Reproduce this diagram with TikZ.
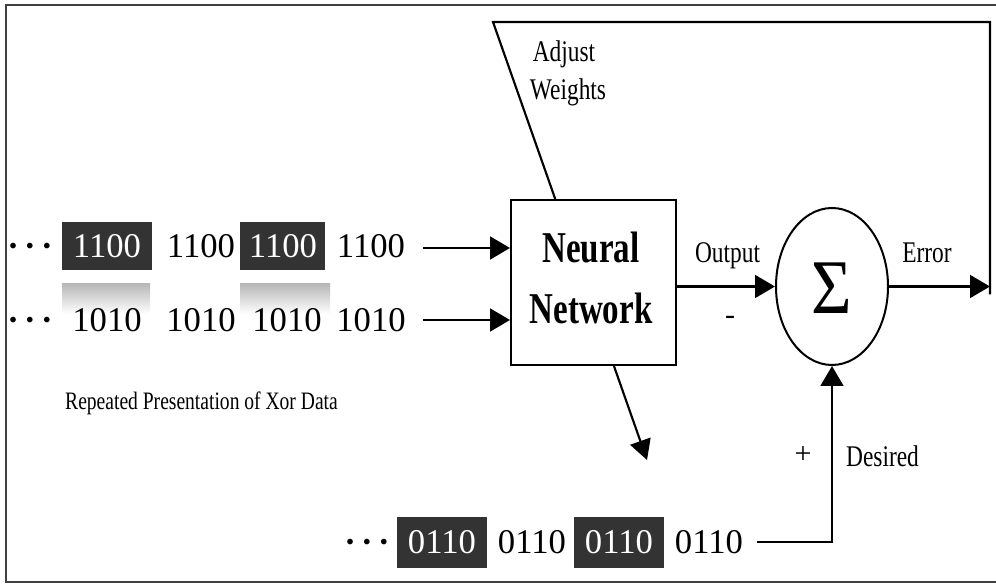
\documentclass[tikz,border=0pt]{standalone}
\usepackage{fontspec}
\setmainfont{Liberation Serif}
\usetikzlibrary{arrows.meta,shapes.geometric}

% horizontally condensed text
\newcommand\narrow[2][0.78]{\scalebox{#1}[1]{#2}}

\begin{document}
\begin{tikzpicture}[x=0.75pt,y=-0.75pt,
  lbl/.style={inner sep=0pt, font=\fontsize{22.5}{27}\selectfont},
  bits/.style={inner sep=0pt, anchor=base, font=\fontsize{26}{30}\selectfont},
  darkbits/.style={bits, text=white},
  dots/.style={bits, font=\bfseries\fontsize{26}{30}\selectfont},
  darkbg/.style={fill=black!80, draw=none},
  lightbg/.style={top color=black!28, bottom color=white, draw=none},
  flow/.style={line width=2.2pt, -{Triangle[length=15pt,width=17pt]}},
  wire/.style={line width=1.6pt},
  frame/.style={line width=1.4pt, black!75},
]
\useasboundingbox (0,0) rectangle (996,584);

% outer frame
\draw[frame] (1000,5) -- (6,5) -- (6,582) -- (1000,582);

% highlighted patterns
\fill[darkbg] (62,222) rectangle (152,270);
\fill[darkbg] (240,222) rectangle (325,270);
\shade[lightbg] (62,284) rectangle (150,314);
\shade[lightbg] (240,284) rectangle (330,314);
\fill[darkbg] (397,517) rectangle (487,568);
\fill[darkbg] (574,517) rectangle (664,568);

% first input stream
\node[dots] (d1) at (30,258) {·\kern4pt·\kern4pt·};
\node[darkbits] (a1) at (107,258) {1100};
\node[bits] (a2) at (201,258) {1100};
\node[darkbits] (a3) at (283,258) {1100};
\node[bits] (a4) at (371,258) {1100};

% second input stream
\node[dots] (d2) at (30,332) {·\kern4pt·\kern4pt·};
\node[bits] (b1) at (107,332) {1010};
\node[bits] (b2) at (201,332) {1010};
\node[bits] (b3) at (287,332) {1010};
\node[bits] (b4) at (371,332) {1010};

% desired output stream
\node[dots] (d3) at (367,553) {·\kern4pt·\kern4pt·};
\node[darkbits] (c1) at (442,553) {0110};
\node[bits] (c2) at (532,553) {0110};
\node[darkbits] (c3) at (619,553) {0110};
\node[bits] (c4) at (709,553) {0110};

\node[inner sep=0pt, anchor=base, font=\fontsize{18.8}{22}\selectfont] (rep) at (201.5,410)
  {\narrow{Repeated Presentation of Xor Data}};

% feedback path coordinates
\coordinate (in1) at (423,248);
\coordinate (in2) at (423,320);
\coordinate (errEnd) at (990,286.5);
\coordinate (topR) at (990,22);
\coordinate (topL) at (493,22);
\coordinate (wtip) at (647,460);
\coordinate (des0) at (757,542);

% weight adjustment line (passes behind the network box)
\draw[wire, line join=miter, -{Triangle[length=15pt,width=16pt]}]
  ([yshift=-6pt]errEnd) -- (topR) -- (topL) -- (wtip);

% network and summing junction
\node[draw, line width=1.5pt, fill=white, minimum width=123.75pt,
  minimum height=123.75pt, inner sep=0pt] (nn) at (593.5,282.5) {};
\node[inner sep=0pt, align=center, font=\bfseries\fontsize{33}{45.75}\selectfont]
  (nntext) at (591,278) {\narrow[0.75]{Neural}\\\narrow[0.75]{Network}};
\node[ellipse, draw, line width=1.5pt, minimum width=84pt,
  minimum height=117.75pt, inner sep=0pt] (sum) at (832,286.5) {};
\node[inner sep=0pt, font=\fontsize{58}{60}\selectfont] (sigma) at (832,288)
  {\narrow[0.9]{Σ}};

% connectors
\draw[flow] (in1) -- (nn.west |- in1);
\draw[flow] (in2) -- (nn.west |- in2);
\draw[flow] (nn.east |- sum.west) -- (sum.west);
\draw[flow] (sum.east) -- (errEnd);
\draw[flow] (des0) -- (des0 -| sum.south) -- (sum.south);

% labels
\node[lbl, anchor=base] (lout) at (727.5,263) {\narrow{Output}};
\node[lbl] (lminus) at (730,320) {-};
\node[lbl, anchor=base] (lerr) at (927,263) {\narrow{Error}};
\node[lbl, anchor=base] (ladj) at (564,62) {\narrow{Adjust}};
\node[lbl, anchor=base] (lwts) at (568,100) {\narrow{Weights}};
\node[lbl] (lplus) at (803,455) {+};
\node[lbl, anchor=base] (ldes) at (882.5,466) {\narrow{Desired}};
\end{tikzpicture}
\end{document}
